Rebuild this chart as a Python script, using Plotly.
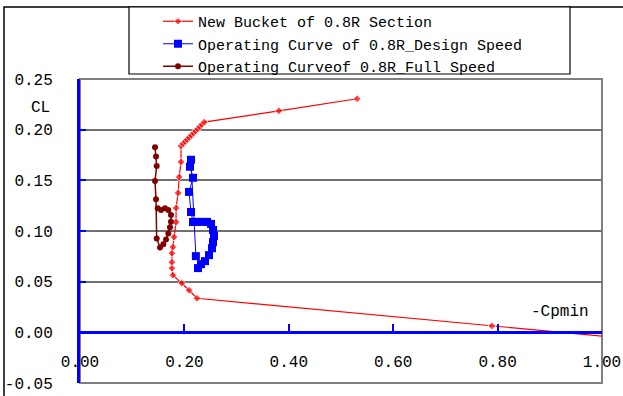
import plotly.graph_objects as go

# ---- data ----
bucket_x = [1.006, 0.789, 0.224, 0.209, 0.195, 0.178, 0.176, 0.176, 0.176, 0.178, 0.180,
            0.184, 0.184, 0.188, 0.190, 0.1935, 0.1935,
            0.1975, 0.2015, 0.2055, 0.2095, 0.2135, 0.2175, 0.2215, 0.2255, 0.2295,
            0.2335, 0.238, 0.381, 0.531]
bucket_y = [-0.0040, 0.0063, 0.0336, 0.0415, 0.0485, 0.0564, 0.0633, 0.0692, 0.0781, 0.0841,
            0.0940, 0.1088, 0.1227, 0.1375, 0.1533, 0.1682, 0.1840,
            0.1861, 0.1882, 0.1903, 0.1924, 0.1945, 0.1966, 0.1987, 0.2008, 0.2029,
            0.2050, 0.2074, 0.2186, 0.2305]

design_x = [0.222, 0.2126, 0.2107, 0.2165, 0.2088, 0.2126, 0.2165, 0.224, 0.2337, 0.2433,
            0.251, 0.2548, 0.2567, 0.2548, 0.2529, 0.2471, 0.2395, 0.2318, 0.226]
design_y = [0.0752, 0.1703, 0.1634, 0.1525, 0.1386, 0.1188, 0.1089, 0.109, 0.109, 0.109,
            0.107, 0.101, 0.095, 0.089, 0.083, 0.0762, 0.0703, 0.0673, 0.0634]

full_x = [0.1437, 0.1456, 0.1469, 0.1437, 0.1456, 0.1469, 0.1533, 0.1596, 0.1648, 0.1692,
          0.1724, 0.1743, 0.1743, 0.1692, 0.1628, 0.1552, 0.1489]
full_y = [0.1827, 0.1734, 0.1642, 0.1494, 0.1313, 0.0927, 0.0838, 0.0870, 0.0917, 0.0976,
          0.1036, 0.1091, 0.1157, 0.1207, 0.1224, 0.1207, 0.1224]

x_ticks = [0.0, 0.2, 0.4, 0.6, 0.8, 1.0]
x_ticklabels = ["0.00", "0.20", "0.40", "0.60", "0.80", "1.00"]
y_ticks = [-0.05, 0.0, 0.05, 0.10, 0.15, 0.20, 0.25]
y_ticklabels = ["-0.05", "0.00", "0.05", "0.10", "0.15", "0.20", "0.25"]

names = ["New Bucket of 0.8R Section",
         "Operating Curve of 0.8R_Design Speed",
         "Operating Curveof 0.8R_Full Speed"]

FONT = "Liberation Mono"

fig = go.Figure()
bucket_sizes = [0] + [6] * (len(bucket_x) - 1)
fig.add_trace(go.Scatter(x=bucket_x, y=bucket_y, mode="lines+markers", name=names[0],
                         line=dict(color="#FF0000", width=1.2),
                         marker=dict(symbol="diamond", size=bucket_sizes, color="#FF0000")))
fig.add_trace(go.Scatter(x=design_x, y=design_y, mode="lines+markers", name=names[1],
                         line=dict(color="#0000FF", width=1),
                         marker=dict(symbol="square", size=8, color="#0000FF")))
fig.add_trace(go.Scatter(x=full_x, y=full_y, mode="lines+markers", name=names[2],
                         line=dict(color="#800000", width=1.5),
                         marker=dict(symbol="circle", size=6, color="#800000")))

fig.update_layout(
    width=623, height=396,
    margin=dict(l=80, r=21, t=79, b=13, autoexpand=False),
    paper_bgcolor="white",
    plot_bgcolor="rgba(0,0,0,0)",
    font=dict(family=FONT, size=16, color="black"),
    showlegend=True,
    legend=dict(x=(158 - 80) / 522, y=(383 - 5) / 304, xanchor="left", yanchor="top",
                bgcolor="rgba(0,0,0,0)", borderwidth=0,
                font=dict(family=FONT, size=15, color="black"),
                tracegroupgap=0),
    xaxis=dict(range=[0, 1], anchor="free", position=0.05 / 0.30,
               showline=True, linecolor="#0000FF", linewidth=3,
               ticks="inside", ticklen=7, tickwidth=2, tickcolor="#0000FF",
               tickvals=x_ticks, ticktext=x_ticklabels, ticklabelstandoff=13,
               showgrid=False, zeroline=False, automargin=False,
               tickfont=dict(family=FONT, size=16, color="black")),
    yaxis=dict(range=[-0.05, 0.25],
               showline=True, linecolor="#0000FF", linewidth=3,
               ticks="inside", ticklen=6, tickwidth=2, tickcolor="#0000FF",
               tickvals=y_ticks, ticktext=y_ticklabels, ticklabelstandoff=21,
               showgrid=True, gridcolor="#707070", gridwidth=2, zeroline=False,
               automargin=False,
               tickfont=dict(family=FONT, size=16, color="black")),
    shapes=[
        # outer chart frame
        dict(type="rect", xref="paper", yref="paper", x0=(4 - 80) / 522, x1=1.6,
             y0=-0.6, y1=(383 - 7) / 304,
             line=dict(color="black", width=1.5), layer="below"),
        # plot area frame
        dict(type="rect", xref="paper", yref="paper", x0=0, x1=1, y0=0, y1=1,
             line=dict(color="#808080", width=2), layer="below"),
        # legend frame
        dict(type="rect", xref="paper", yref="paper", x0=(129 - 80) / 522, x1=(570 - 80) / 522,
             y0=(383 - 74) / 304, y1=(383 - 7) / 304,
             line=dict(color="black", width=1.2), fillcolor="white", layer="below"),
    ],
    annotations=[
        dict(text="CL", xref="paper", yref="paper", x=(40 - 80) / 522, y=(383 - 108) / 304,
             showarrow=False, xanchor="center", yanchor="middle",
             font=dict(family=FONT, size=16, color="black")),
        dict(text="-Cpmin", xref="paper", yref="paper", x=(560 - 80) / 522, y=(383 - 312) / 304,
             showarrow=False, xanchor="center", yanchor="middle",
             font=dict(family=FONT, size=16, color="black")),
    ],
)

fig.write_html("out.html", config={"displayModeBar": False},
               post_script="document.body.style.margin='0';")
